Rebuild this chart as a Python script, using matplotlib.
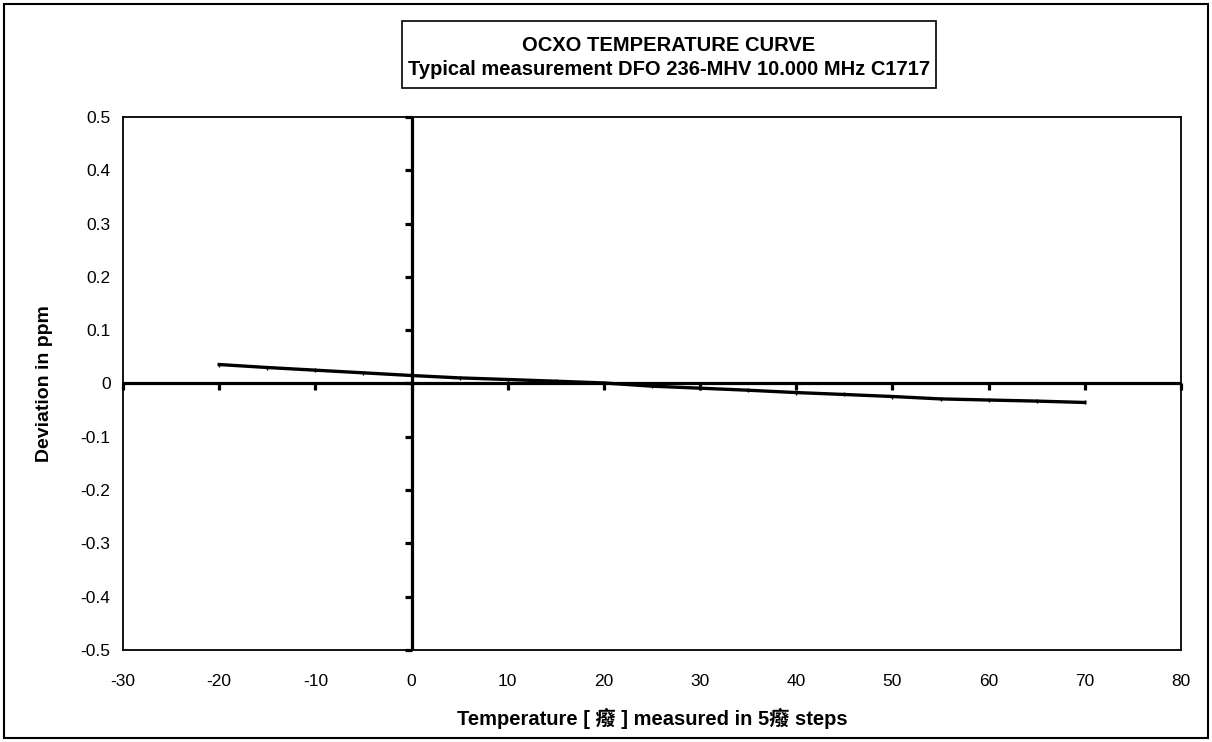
import matplotlib
matplotlib.use("Agg")
import matplotlib.pyplot as plt
from matplotlib.patches import Rectangle
from matplotlib.markers import TICKLEFT, TICKDOWN

plt.rcParams['font.family'] = ['Liberation Sans', 'Noto Sans CJK SC', 'DejaVu Sans']

temperature = [-20, -15, -10, -5, 0, 5, 10, 15, 20, 25, 30, 35, 40, 45, 50, 55, 60, 65, 70]
deviation = [0.0356, 0.030, 0.025, 0.020, 0.015, 0.0105, 0.0075, 0.0043, 0.001, -0.005,
             -0.0088, -0.0126, -0.017, -0.0206, -0.0244, -0.0289, -0.031, -0.033, -0.0356]
x_ticks = [-30, -20, -10, 0, 10, 20, 30, 40, 50, 60, 70, 80]
y_ticks = [-0.5, -0.4, -0.3, -0.2, -0.1, 0, 0.1, 0.2, 0.3, 0.4, 0.5]
x_tick_labels = ['-30', '-20', '-10', '0', '10', '20', '30', '40', '50', '60', '70', '80']
y_tick_labels = ['-0.5', '-0.4', '-0.3', '-0.2', '-0.1', '0', '0.1', '0.2', '0.3', '0.4', '0.5']
title_lines = ['OCXO TEMPERATURE CURVE', 'Typical measurement DFO 236-MHV 10.000 MHz C1717']
x_label = 'Temperature [ 癈 ] measured in 5癈 steps'
y_label = 'Deviation in ppm'

W, H = 1212, 742
fig = plt.figure(figsize=(W / 100, H / 100), dpi=100)
ax = fig.add_axes([123 / W, 1 - 650 / H, (1181 - 123) / W, (650 - 117) / H])

ax.set_xlim(x_ticks[0], x_ticks[-1])
ax.set_ylim(y_ticks[0], y_ticks[-1])
ax.set_xticks(x_ticks)
ax.set_xticklabels(x_tick_labels)
ax.set_yticks(y_ticks)
ax.set_yticklabels(y_tick_labels)
ax.tick_params(axis='x', length=0, pad=17.5, labelsize=12.5)
ax.tick_params(axis='y', length=0, pad=9, labelsize=12.5)
for s in ax.spines.values():
    s.set_linewidth(1.3)

# zero axes lines with tick marks
ax.axhline(0, color='black', lw=2.3, zorder=2)
ax.axvline(0, color='black', lw=2.3, zorder=2)
ax.plot(x_ticks, [0] * len(x_ticks), linestyle='none', marker=TICKDOWN,
        markersize=5, markeredgewidth=2.3, color='black', clip_on=False, zorder=2)
ax.plot([0] * len(y_ticks), y_ticks, linestyle='none', marker=TICKLEFT,
        markersize=5, markeredgewidth=2.3, color='black', clip_on=False, zorder=2)

ax.plot(temperature, deviation, color='black', lw=2.4, marker='|', markersize=3,
        markeredgewidth=1.0, zorder=3)

ax.set_xlabel(x_label, fontsize=14.5, fontweight='bold', labelpad=13)
ax.set_ylabel(y_label, fontsize=14, fontweight='bold', labelpad=20)

# title box
fig.patches.append(Rectangle((402 / W, 1 - 88 / H), (936 - 402) / W, (88 - 21) / H,
                             transform=fig.transFigure, fill=False, edgecolor='black', lw=1.2))
fig.text((402 + 936) / 2 / W, 1 - 57.5 / H, '\n'.join(title_lines), ha='center', va='center',
         fontsize=14.5, fontweight='bold', linespacing=1.36)

# outer border
fig.patches.append(Rectangle((4 / W, 1 - 738 / H), (1208 - 4) / W, (738 - 4) / H,
                             transform=fig.transFigure, fill=False, edgecolor='black', lw=1.5))

fig.savefig('out.png', dpi=100)
